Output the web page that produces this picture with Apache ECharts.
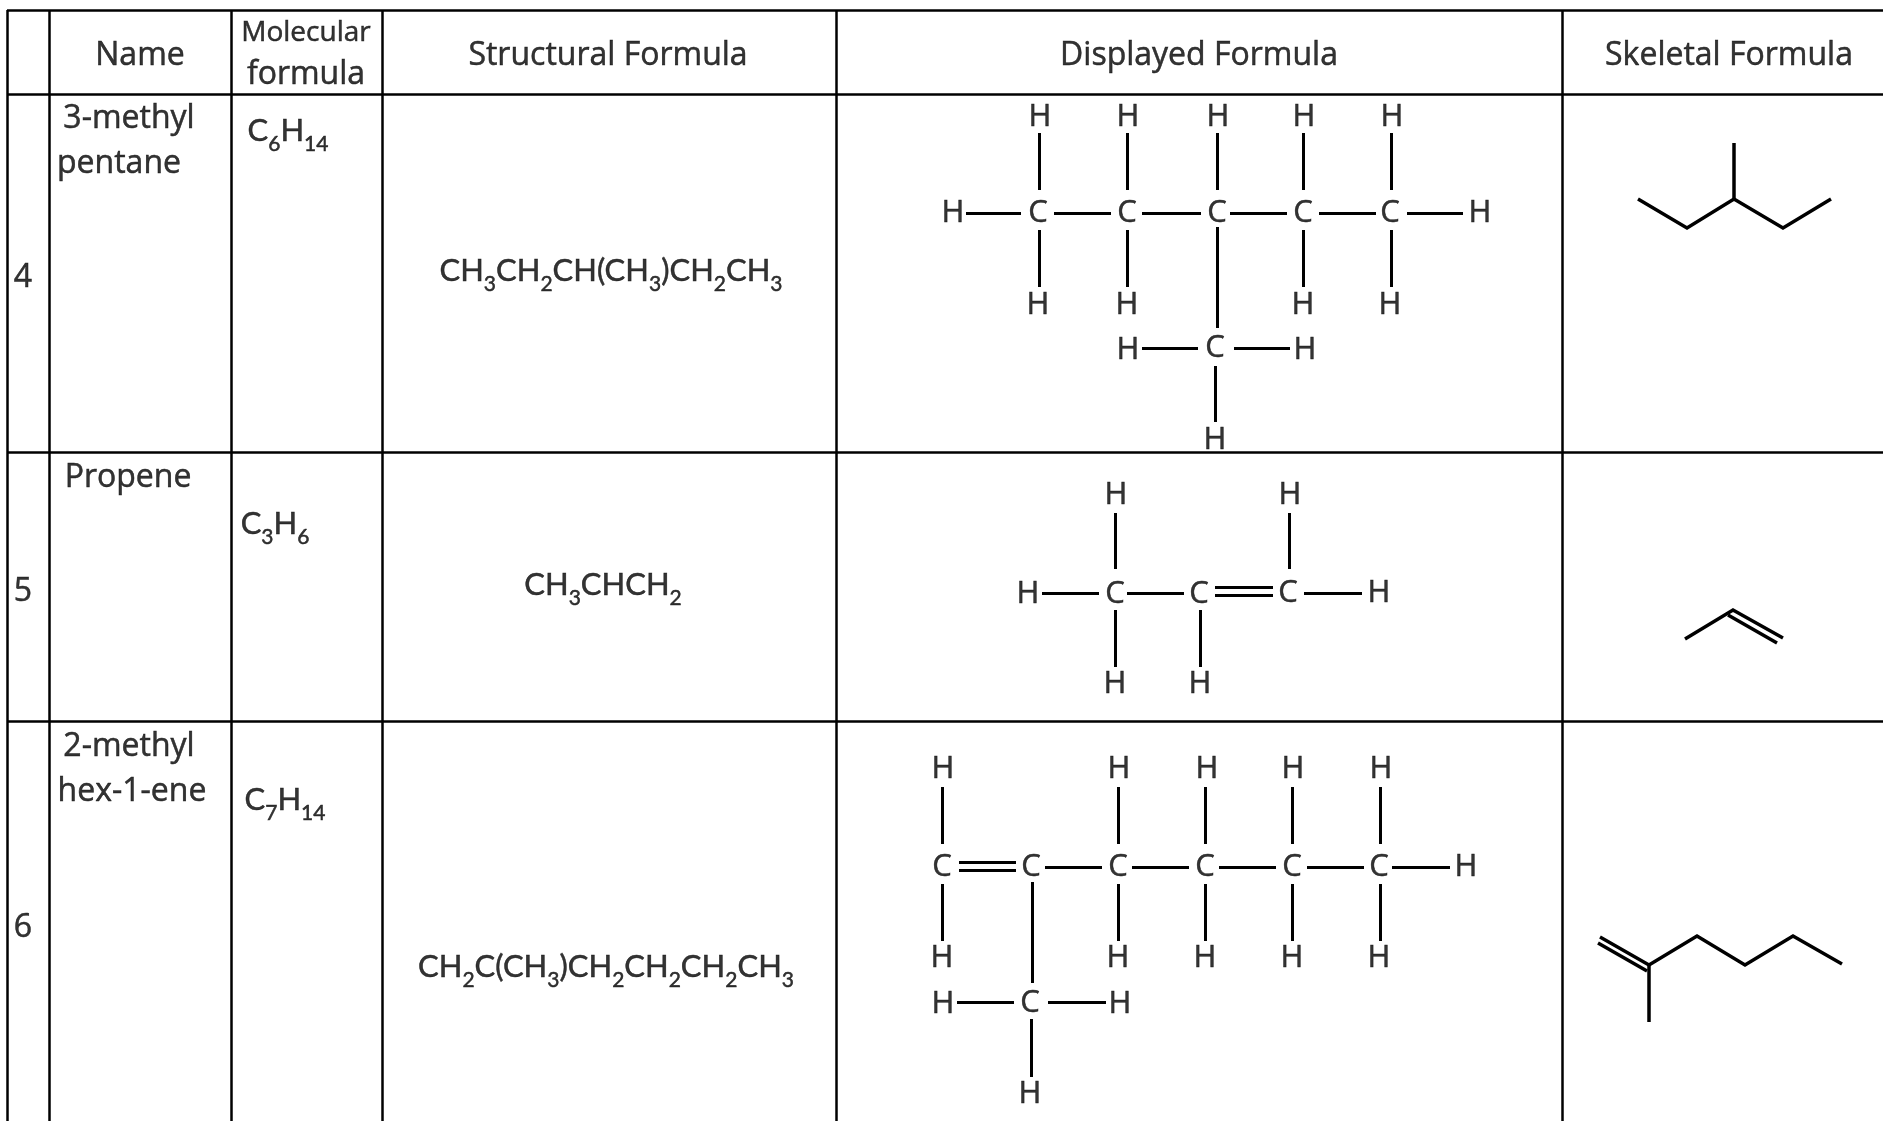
<!DOCTYPE html>
<html>
<head>
<meta charset="utf-8">
<title>Formula table</title>
<script src="https://cdn.jsdelivr.net/npm/echarts@6/dist/echarts.min.js"></script>
<style>
  html, body { margin: 0; background: #fff; }
  #main { width: 1883px; height: 1121px; }
</style>
</head>
<body>
<div id="main"></div>
<script>
// table rules, as [x1, y1, x2, y2] in the diagram's own units
const tableRules = [
  [7, 10.5, 1883, 10.5], [7, 94, 1883, 94], [7, 452, 1883, 452], [7, 721, 1883, 721],
  [7.5, 10, 7.5, 1121], [49, 10, 49, 1121], [231, 10, 231, 1121], [382, 10, 382, 1121],
  [836, 10, 836, 1121], [1562, 10, 1562, 1121]
]

// [x, y, text]
const headers = [
  [140, 56, 'Name'], [608, 56, 'Structural Formula'], [1199, 56, 'Displayed Formula'],
  [1729, 56, 'Skeletal Formula']
]
const molecularHeader = [[306, 33, 'Molecular']]
const formulaHeader = [[306, 75, 'formula']]
const rowNumbers = [[23, 278, '4'], [23, 592, '5'], [23, 928, '6']]
const names = [
  [129, 119, '3-methyl'], [119, 164, 'pentane'], [128, 478, 'Propene'],
  [129, 747, '2-methyl'], [132, 792, 'hex-1-ene']
]
const molecularFormulas = [
  [288, 131, 'C_6H_14'], [275, 524, 'C_3H_6'], [285, 800, 'C_7H_14']
]
const structuralFormulas = [
  [611, 271, 'CH_3CH_2CH(CH_3)CH_2CH_3'], [603, 585, 'CH_3CHCH_2'],
  [606, 967, 'CH_2C(CH_3)CH_2CH_2CH_2CH_3']
]

// atoms of the displayed formulas, [x, y, symbol]
const atoms3Methylpentane = [
  [1038, 213, 'C'], [1127, 213, 'C'], [1217, 213, 'C'], [1303, 213, 'C'], [1390, 213, 'C'],
  [953, 213, 'H'], [1480, 213, 'H'],
  [1040, 117, 'H'], [1128, 117, 'H'], [1218, 117, 'H'], [1304, 117, 'H'], [1392, 117, 'H'],
  [1038, 305, 'H'], [1127, 305, 'H'], [1303, 305, 'H'], [1390, 305, 'H'],
  [1215, 348, 'C'], [1128, 350, 'H'], [1305, 350, 'H'], [1215, 440, 'H']
]
const atomsPropene = [
  [1115, 594, 'C'], [1199, 594, 'C'], [1288, 593, 'C'],
  [1028, 594, 'H'], [1379, 593, 'H'],
  [1116, 495, 'H'], [1290, 495, 'H'], [1115, 684, 'H'], [1200, 684, 'H']
]
const atomsMethylhexene = [
  [942, 867, 'C'], [1031, 867, 'C'], [1118, 867, 'C'], [1205, 867, 'C'], [1292, 867, 'C'], [1379, 867, 'C'],
  [1466, 867, 'H'],
  [943, 769, 'H'], [1119, 769, 'H'], [1207, 769, 'H'], [1293, 769, 'H'], [1381, 769, 'H'],
  [942, 958, 'H'], [1118, 958, 'H'], [1205, 958, 'H'], [1292, 958, 'H'], [1379, 958, 'H'],
  [1030, 1003, 'C'], [943, 1004, 'H'], [1120, 1004, 'H'], [1030, 1094, 'H']
]

// bonds of the displayed formulas, [x1, y1, x2, y2]
const bonds3Methylpentane = [
  [966, 213, 1021, 213], [1054, 213, 1111, 213], [1142, 213, 1201, 213],
  [1230, 213, 1287, 213], [1319, 213, 1376, 213], [1407, 213, 1463, 213],
  [1039, 133, 1039, 190], [1127, 133, 1127, 190], [1217, 133, 1217, 190], [1303, 133, 1303, 190], [1391, 133, 1391, 190],
  [1039, 230, 1039, 287], [1127, 230, 1127, 287], [1303, 230, 1303, 287], [1391, 230, 1391, 287],
  [1217, 227, 1217, 328],
  [1142, 348, 1198, 348], [1234, 348, 1290, 348], [1215, 366, 1215, 422]
]
const bondsPropene = [
  [1042, 593, 1099, 593], [1127, 593, 1184, 593],
  [1215, 587, 1273, 587], [1215, 595, 1273, 595],
  [1304, 593, 1362, 593],
  [1115, 513, 1115, 569], [1289, 513, 1289, 569],
  [1115, 610, 1115, 667], [1200, 610, 1200, 667]
]
const bondsMethylhexene = [
  [959, 862, 1016, 862], [959, 870, 1016, 870],
  [1045, 867, 1102, 867], [1132, 867, 1189, 867], [1219, 867, 1276, 867],
  [1307, 867, 1364, 867], [1392, 867, 1450, 867],
  [942, 787, 942, 844], [1118, 787, 1118, 844], [1205, 787, 1205, 844], [1292, 787, 1292, 844], [1380, 787, 1380, 844],
  [942, 884, 942, 941], [1118, 884, 1118, 941], [1205, 884, 1205, 941], [1292, 884, 1292, 941], [1380, 884, 1380, 941],
  [1032, 882, 1032, 983],
  [957, 1002, 1014, 1002], [1048, 1002, 1106, 1002], [1031, 1019, 1031, 1077]
]

// skeletal formulas, each one a polyline of [x, y] points
const skeletalLines = [
  [[1638, 199], [1687, 228], [1734, 199], [1783, 228], [1831, 199]],
  [[1734, 143], [1734, 199]],
  [[1685, 639], [1733, 610], [1783, 638]],
  [[1728, 615], [1777, 643]],
  [[1600, 937], [1649, 965], [1697, 936], [1745, 965], [1793, 936], [1842, 964]],
  [[1598, 943], [1647, 971]],
  [[1649, 965], [1649, 1022]]
]

const allAtoms = [...atoms3Methylpentane, ...atomsPropene, ...atomsMethylhexene]
const allBonds = [...bonds3Methylpentane, ...bondsPropene, ...bondsMethylhexene]

const TEXT_COLOR = '#000'
// the reference text is a little heavier than the regular weights here
const TEXT_STROKE = { textBorderColor: TEXT_COLOR, textBorderWidth: 0.5 }

function segments(list) {
  return list.map((s) => ({ coords: [[s[0], s[1]], [s[2], s[3]]] }))
}

// 'C_6H_14' => rich text with the digits after _ as subscripts
function toRich(text) {
  return text
    .split(/(_\d+)/)
    .filter((part) => part !== '')
    .map((part) => (part[0] === '_' ? `{s|${part.slice(1)}}` : `{n|${part}}`))
    .join('')
}

function textSeries(list, fontFamily, fontSize, subSize) {
  return {
    type: 'scatter',
    symbolSize: 1,
    itemStyle: { color: 'transparent' },
    silent: true,
    data: list.map((d) => ({ value: [d[0], d[1]], name: d[2] })),
    label: {
      show: true,
      position: 'inside',
      color: TEXT_COLOR,
      ...TEXT_STROKE,
      formatter: (p) => (subSize ? toRich(p.name) : p.name),
      fontFamily,
      fontSize,
      rich: subSize
        ? {
            n: { fontFamily, fontSize, color: TEXT_COLOR, verticalAlign: 'middle', ...TEXT_STROKE },
            s: {
              fontFamily,
              fontSize: subSize,
              color: TEXT_COLOR,
              verticalAlign: 'middle',
              padding: [26, 0, 0, 0],
              ...TEXT_STROKE
            }
          }
        : undefined
    }
  }
}

const myChart = echarts.init(document.getElementById('main'))
myChart.setOption({
  animation: false,
  backgroundColor: '#fff',
  grid: { left: 0, right: 0, top: 0, bottom: 0 },
  xAxis: { type: 'value', min: 0, max: 1883, show: false },
  yAxis: { type: 'value', min: 0, max: 1121, inverse: true, show: false },
  series: [
    {
      type: 'lines',
      coordinateSystem: 'cartesian2d',
      silent: true,
      lineStyle: { color: '#000', width: 2.5, opacity: 1 },
      data: segments(tableRules)
    },
    {
      type: 'lines',
      coordinateSystem: 'cartesian2d',
      silent: true,
      lineStyle: { color: '#000', width: 3, opacity: 1 },
      data: segments(allBonds)
    },
    {
      type: 'lines',
      coordinateSystem: 'cartesian2d',
      polyline: true,
      silent: true,
      lineStyle: { color: '#000', width: 3.5, opacity: 1, join: 'miter' },
      data: skeletalLines.map((points) => ({ coords: points }))
    },
    textSeries(headers, '"Open Sans"', 32),
    textSeries(molecularHeader, '"Open Sans"', 28),
    textSeries(formulaHeader, '"Open Sans"', 32),
    textSeries(rowNumbers, '"Open Sans"', 32),
    textSeries(names, '"Open Sans"', 32),
    textSeries(molecularFormulas, 'Lato', 31, 21),
    textSeries(structuralFormulas, 'Lato', 31, 21),
    textSeries(allAtoms, '"Open Sans"', 31)
  ]
})
</script>
</body>
</html>
